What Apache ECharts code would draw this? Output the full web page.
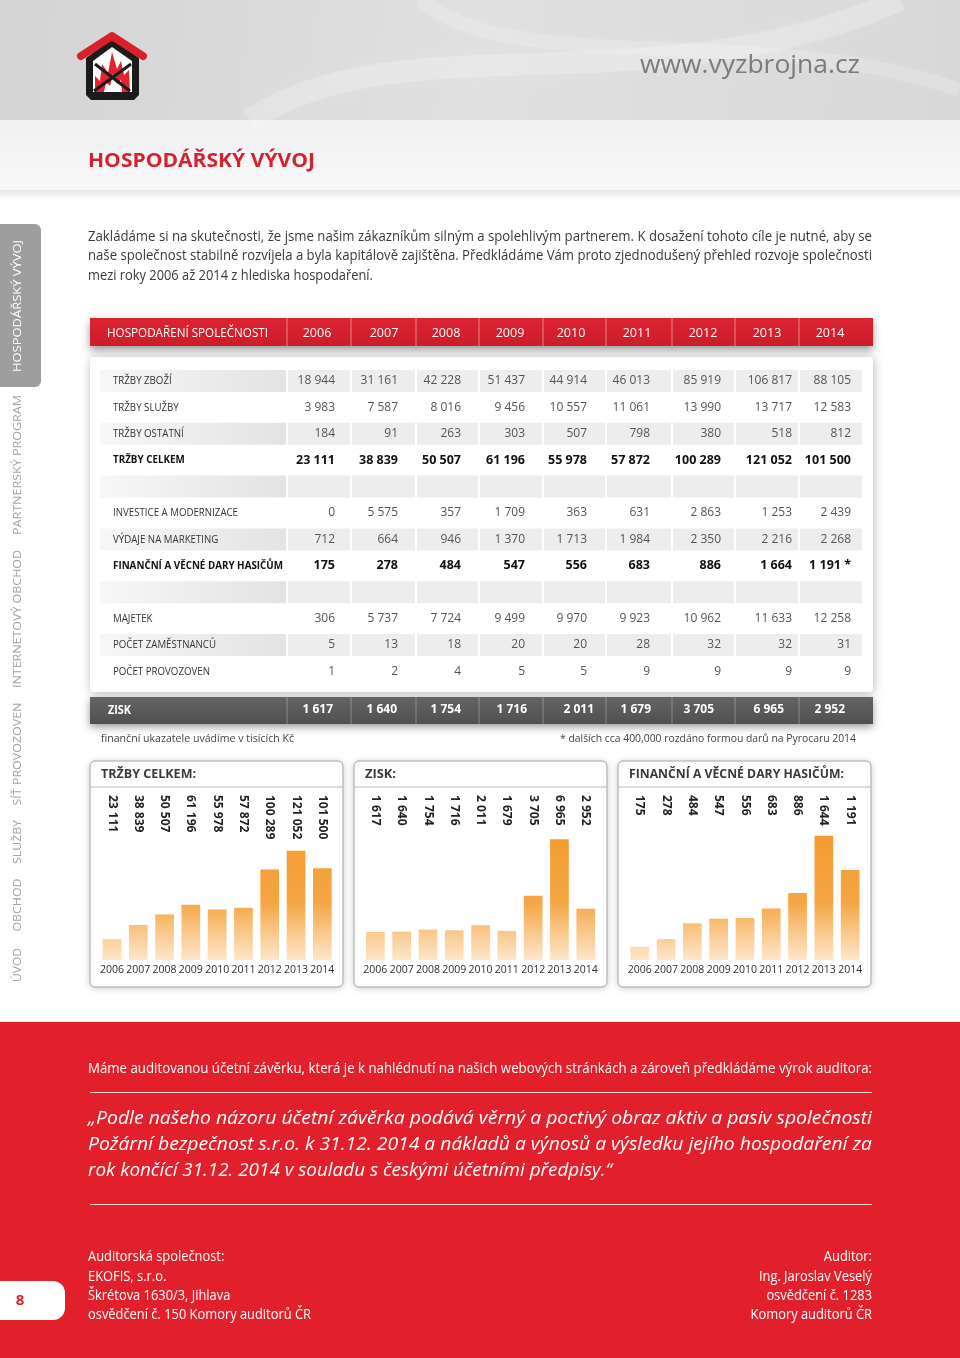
<!DOCTYPE html>
<html><head><meta charset="utf-8">
<script src="https://cdn.jsdelivr.net/npm/echarts@6/dist/echarts.min.js"></script>
<style>html,body{margin:0;padding:0;background:#fff}#c{width:960px;height:1358px}</style>
</head><body><div id="c"></div>
<script>
// ---------------- DATA ----------------
const years = ['2006','2007','2008','2009','2010','2011','2012','2013','2014'];
const rowLabels = ['TRŽBY ZBOŽÍ','TRŽBY SLUŽBY','TRŽBY OSTATNÍ','TRŽBY CELKEM','',
  'INVESTICE A MODERNIZACE','VÝDAJE NA MARKETING','FINANČNÍ A VĚCNÉ DARY HASIČŮM','',
  'MAJETEK','POČET ZAMĚSTNANCŮ','POČET PROVOZOVEN'];
const trzbyZbozi   = [18944, 31161, 42228, 51437, 44914, 46013, 85919, 106817, 88105];
const trzbySluzby  = [3983, 7587, 8016, 9456, 10557, 11061, 13990, 13717, 12583];
const trzbyOstatni = [184, 91, 263, 303, 507, 798, 380, 518, 812];
const trzbyCelkem  = [23111, 38839, 50507, 61196, 55978, 57872, 100289, 121052, 101500];
const investice    = [0, 5575, 357, 1709, 363, 631, 2863, 1253, 2439];
const marketing    = [712, 664, 946, 1370, 1713, 1984, 2350, 2216, 2268];
const daryTable    = [175, 278, 484, 547, 556, 683, 886, 1664, 1191];
const majetek      = [306, 5737, 7724, 9499, 9970, 9923, 10962, 11633, 12258];
const zamestnanci  = [5, 13, 18, 20, 20, 28, 32, 32, 31];
const provozovny   = [1, 2, 4, 5, 5, 9, 9, 9, 9];
const zisk         = [1617, 1640, 1754, 1716, 2011, 1679, 3705, 6965, 2952];
const daryChart    = [175, 278, 484, 547, 556, 683, 886, 1644, 1191];
const chartTitles  = ['TRŽBY CELKEM:', 'ZISK:', 'FINANČNÍ A VĚCNÉ DARY HASIČŮM:'];

// ---------------- LAYOUT HELPERS ----------------
const FF = '"Open Sans", "Noto Sans", sans-serif';
const mctx = document.createElement('canvas').getContext('2d');
function measure(t, size, weight, fstyle) {
  mctx.font = (fstyle || 'normal') + ' ' + (weight || 'normal') + ' ' + size + 'px ' + FF;
  return mctx.measureText(t).width;
}
function fmt(n) { return String(n).replace(/\B(?=(\d{3})+(?!\d))/g, ' '); }
function txt(t, x, y, o) {
  o = o || {};
  const size = o.size || 12, weight = o.weight || 'normal', fstyle = o.fstyle || 'normal';
  let sx = o.sx || 1;
  if (o.fit) sx = o.fit / measure(t, size, weight, fstyle);
  const al = o.align || 'left';
  return { type: 'text', x: x, y: y, scaleX: sx, scaleY: 1, rotation: o.rot || 0, z: o.z || 10, silent: true,
    style: { text: t, x: 0, y: 0, fill: o.color || '#333', fontSize: size, fontWeight: weight, fontStyle: fstyle,
      fontFamily: FF, align: al, textAlign: al, verticalAlign: 'middle', textVerticalAlign: 'middle' } };
}
function rect(x, y, w, h, fill, o) {
  o = o || {};
  const st = { fill: fill };
  if (o.stroke) { st.stroke = o.stroke; st.lineWidth = o.lw || 1; }
  if (o.shadow) { st.shadowBlur = o.shadow; st.shadowColor = o.shadowColor || 'rgba(0,0,0,0.3)'; st.shadowOffsetY = o.sy || 0; st.shadowOffsetX = o.sxo || 0; }
  return { type: 'rect', z: o.z || 0, silent: true, shape: { x: x, y: y, width: w, height: h, r: o.r || 0 }, style: st };
}
function line(x1, y1, x2, y2, color, lw, z) {
  return { type: 'line', z: z || 3, silent: true, shape: { x1: x1, y1: y1, x2: x2, y2: y2 }, style: { stroke: color, lineWidth: lw || 1 } };
}
function lin(x, y, x2, y2, stops) {
  return { type: 'linear', x: x, y: y, x2: x2, y2: y2, global: true,
    colorStops: stops.map(s => ({ offset: s[0], color: s[1] })) };
}

const G = [];
// page background
G.push(rect(0, 0, 960, 120, lin(0, 0, 960, 120, [[0, '#d4d4d4'], [0.5, '#e0e0e0'], [1, '#d8d8d8']]), { z: 0 }));
G.push(rect(0, 120, 960, 70, lin(0, 120, 0, 190, [[0, '#f1f1f1'], [1, '#f8f8f8']]), { z: 0 }));
G.push(rect(0, 190, 960, 10, lin(0, 190, 0, 200, [[0, '#e6e6e6'], [1, '#ffffff']]), { z: 0 }));
// smoke hints
G.push({ type: 'bezierCurve', z: 0, silent: true, shape: { x1: 250, y1: 120, x2: 900, y2: 0, cpx1: 400, cpy1: 20, cpx2: 650, cpy2: 110 }, style: { stroke: 'rgba(255,255,255,0.22)', lineWidth: 22, fill: null, shadowBlur: 25, shadowColor: 'rgba(255,255,255,0.6)' } });
G.push({ type: 'bezierCurve', z: 0, silent: true, shape: { x1: 420, y1: 0, x2: 960, y2: 90, cpx1: 520, cpy1: 80, cpx2: 760, cpy2: 20 }, style: { stroke: 'rgba(255,255,255,0.18)', lineWidth: 14, fill: null, shadowBlur: 20, shadowColor: 'rgba(255,255,255,0.5)' } });

// logo
G.push({ type: 'polygon', z: 2, silent: true, shape: { points: [[86, 58], [112, 39], [139, 58], [139, 95], [134, 100], [91, 100], [86, 95]] }, style: { fill: '#1b1b1b' } });
G.push({ type: 'polygon', z: 3, silent: true, shape: { points: [[93, 61], [112, 47], [132, 61], [132, 92], [93, 92]] }, style: { fill: '#ffffff' } });
G.push({ type: 'polygon', z: 4, silent: true, shape: { points: [[95, 92], [95, 76], [100, 81], [102, 64], [108, 73], [112, 52], [117, 69], [121, 61], [124, 75], [129, 70], [130, 92]] }, style: { fill: '#e2242e' } });
G.push({ type: 'polygon', z: 5, silent: true, shape: { points: [[104, 92], [106, 82], [110, 86], [113, 74], [117, 84], [121, 80], [122, 92]] }, style: { fill: '#ffffff' } });
G.push(line(95, 64, 130, 91, '#1b1b1b', 3, 6));
G.push(line(131, 64, 94, 91, '#1b1b1b', 3, 6));
G.push({ type: 'polyline', z: 7, silent: true, shape: { points: [[81, 56], [112, 36], [143, 56]] }, style: { stroke: '#d8212d', lineWidth: 8, lineCap: 'round', lineJoin: 'round', fill: null } });

G.push(txt('www.vyzbrojna.cz', 640, 66, { size: 26, color: '#7b7b7b', fit: 220 }));
G.push(txt('HOSPODÁŘSKÝ VÝVOJ', 88, 161, { size: 20, weight: 'bold', color: '#d32330', fit: 227 }));

// sidebar
G.push(rect(-8, 224, 49, 163, '#9e9e9e', { r: 6, z: 1 }));
const side = [['HOSPODÁŘSKÝ VÝVOJ', 306, 132, '#ffffff'], ['PARTNERSKÝ PROGRAM', 465, 140, '#a3a3a3'], ['INTERNETOVÝ OBCHOD', 619, 138, '#a3a3a3'],
  ['SÍŤ PROVOZOVEN', 754, 103, '#a3a3a3'], ['SLUŽBY', 842, 44, '#a3a3a3'], ['OBCHOD', 905, 53, '#a3a3a3'], ['ÚVOD', 965, 34, '#a3a3a3']];
side.forEach(s => G.push(txt(s[0], 18, s[1], { size: 11, color: s[3], fit: s[2], align: 'center', rot: Math.PI / 2 })));

// intro paragraph
const intro = [['Zakládáme si na skutečnosti, že jsme našim zákazníkům silným a spolehlivým partnerem. K dosažení tohoto cíle je nutné, aby se', 237, 784],
  ['naše společnost stabilně rozvíjela a byla kapitálově zajištěna. Předkládáme Vám proto zjednodušený přehled rozvoje společnosti', 256, 784],
  ['mezi roky 2006 až 2014 z hlediska hospodaření.', 276, 285]];
intro.forEach(l => G.push(txt(l[0], 88, l[1], { size: 14, color: '#3a3a3a', fit: l[2] })));

// ---------------- TABLE ----------------
const rowData = [trzbyZbozi, trzbySluzby, trzbyOstatni, trzbyCelkem, null, investice, marketing, daryTable, null, majetek, zamestnanci, provozovny];
const boldRows = [3, 7];
const grayRows = [0, 2, 4, 6, 8, 10];
const colCells = [[288, 350], [352, 415], [417, 478], [480, 542], [544, 605], [607, 671], [673, 734], [736, 798], [800, 862]];
const valRight = [335, 398, 461, 525, 587, 650, 721, 792, 851];
const yearCenter = [317, 384, 446, 510, 571, 637, 703, 767, 830];
const ziskRight = [333, 397, 461, 527, 594, 651, 714, 784, 845];
const seps = [287, 351, 416, 479, 543, 606, 672, 735, 799];

// header bar
G.push(rect(90, 318, 783, 28, lin(0, 318, 0, 346, [[0, '#dc2331'], [1, '#cc1d2a']]), { z: 2, shadow: 8, sy: 4, shadowColor: 'rgba(0,0,0,0.4)' }));
seps.forEach(x => G.push(line(x, 318, x, 346, 'rgba(255,255,255,0.45)', 1, 3)));
G.push(txt('HOSPODAŘENÍ SPOLEČNOSTI', 107, 333, { size: 13, color: '#ffffff', fit: 161 }));
years.forEach((y, i) => G.push(txt(y, yearCenter[i], 333, { size: 12.5, color: '#ffffff', align: 'center' })));

// body card
G.push(rect(90, 357, 783, 335, '#ffffff', { z: 1, r: 4, shadow: 10, shadowColor: 'rgba(0,0,0,0.28)', sy: 1, sxo: 1 }));
const sxLab = 125 / measure('INVESTICE A MODERNIZACE', 11, 'normal');
const sxLabB = 170 / measure('FINANČNÍ A VĚCNÉ DARY HASIČŮM', 11, 'bold');
rowLabels.forEach((lab, r) => {
  const top = 370 + 26.4 * r, cy = top + 11;
  const bold = boldRows.indexOf(r) >= 0;
  if (grayRows.indexOf(r) >= 0) {
    G.push(rect(100, top, 186, 22, lin(100, 0, 286, 0, [[0, '#f7f7f7'], [1, '#e3e3e3']]), { z: 2 }));
    colCells.forEach(c => G.push(rect(c[0], top, c[1] - c[0], 22, '#ededed', { z: 2 })));
  }
  if (lab) G.push(txt(lab, 113, cy, { size: 11, weight: bold ? 'bold' : 'normal', color: bold ? '#111' : '#333', sx: bold ? sxLabB : sxLab }));
  const d = rowData[r];
  if (d) d.forEach((v, i) => {
    let s = fmt(v);
    if (r === 7 && i === 8) s += ' *';
    G.push(txt(s, valRight[i], cy, { size: bold ? 12.5 : 12, weight: bold ? 'bold' : 'normal', color: bold ? '#111' : '#555', align: 'right' }));
  });
});

// ZISK bar
G.push(rect(90, 697, 783, 27, lin(0, 697, 0, 724, [[0, '#646464'], [1, '#505050']]), { z: 2, shadow: 8, sy: 3, shadowColor: 'rgba(0,0,0,0.4)' }));
seps.forEach(x => G.push(line(x, 697, x, 724, 'rgba(255,255,255,0.3)', 1, 3)));
G.push(txt('ZISK', 108, 710, { size: 13, weight: 'bold', color: '#ffffff', fit: 23 }));
zisk.forEach((v, i) => G.push(txt(fmt(v), ziskRight[i], 710, { size: 12, weight: 'bold', color: '#ffffff', align: 'right' })));

G.push(txt('finanční ukazatele uvádíme v tisících Kč', 101, 739, { size: 11, color: '#444', fit: 193 }));
G.push(txt('* dalších cca 400,000 rozdáno formou darů na Pyrocaru 2014', 856, 739, { size: 11, color: '#444', fit: 296, align: 'right' }));

// chart boxes
const boxX = [90, 354, 618];
const titleW = [95, 31, 215];
boxX.forEach((bx, i) => {
  G.push(rect(bx, 761, 253, 226, '#ffffff', { z: 1, r: 5, stroke: '#a9a9a9', shadow: 6, shadowColor: 'rgba(0,0,0,0.18)', sy: 1 }));
  G.push(line(bx, 787, bx + 253, 787, '#bdbdbd', 1, 2));
  G.push(txt(chartTitles[i], bx + 11, 774, { size: 13, weight: 'bold', color: '#3a3a3a', fit: titleW[i] }));
});

// footer
G.push(rect(0, 1022, 960, 336, '#e2202b', { z: 0 }));
G.push(line(0, 1021.5, 960, 1021.5, '#f4f4f4', 1, 1));
G.push(txt('Máme auditovanou účetní závěrku, která je k nahlédnutí na našich webových stránkách a zároveň předkládáme výrok auditora:', 88, 1069, { size: 14, color: '#ffffff', fit: 784 }));
G.push(line(90, 1092.5, 872, 1092.5, 'rgba(255,255,255,0.85)', 1, 3));
const quote = [['„Podle našeho názoru účetní závěrka podává věrný a poctivý obraz aktiv a pasiv společnosti', 1119, 784],
  ['Požární bezpečnost s.r.o. k 31.12. 2014 a nákladů a výnosů a výsledku jejího hospodaření za', 1145, 784],
  ['rok končící 31.12. 2014 v souladu s českými účetními předpisy.“', 1171, 524]];
quote.forEach(q => G.push(txt(q[0], 88, q[1], { size: 19, fstyle: 'italic', color: '#ffffff', fit: q[2] })));
G.push(line(90, 1204.5, 872, 1204.5, 'rgba(255,255,255,0.85)', 1, 3));
const sxF = 223 / measure('osvědčení č. 150 Komory auditorů ČR', 14, 'normal');
const leftBlock = ['Auditorská společnost:', 'EKOFIS, s.r.o.', 'Škrétova 1630/3, Jihlava', 'osvědčení č. 150 Komory auditorů ČR'];
const rightBlock = ['Auditor:', 'Ing. Jaroslav Veselý', 'osvědčení č. 1283', 'Komory auditorů ČR'];
const blockY = [1257, 1277, 1296, 1315];
leftBlock.forEach((t, i) => G.push(txt(t, 88, blockY[i], { size: 14, color: '#ffffff', sx: sxF })));
rightBlock.forEach((t, i) => G.push(txt(t, 872, blockY[i], { size: 14, color: '#ffffff', sx: sxF, align: 'right' })));
G.push(rect(-12, 1281, 77, 39, '#ffffff', { z: 2, r: 12 }));
G.push(txt('8', 20, 1301, { size: 15, weight: 'bold', color: '#d8202c', align: 'center' }));

// ---------------- CHARTS ----------------
const chartData = [trzbyCelkem, zisk, daryChart];
const chartMax = [144000, 7500, 1720];
const gridLeft = [98.8, 362.2, 626.6];
const barGrad = lin(0, 830, 0, 960, [[0, '#f39b2f'], [0.55, '#f5a543'], [1, '#fde7cb']]);
const grids = [], xAxes = [], yAxes = [], series = [];
chartData.forEach((d, i) => {
  grids.push({ left: gridLeft[i], top: 830, width: 236.7, height: 130 });
  xAxes.push({ type: 'category', gridIndex: i, data: years, position: 'bottom', z: 5,
    axisLine: { show: false }, axisTick: { show: false }, splitLine: { show: false },
    axisLabel: { interval: 0, margin: 5, fontSize: 10.5, color: '#2e2e2e', fontFamily: FF } });
  // value labels: top axis moved up to y=795, labels drawn inside (downwards), rotated
  xAxes.push({ type: 'category', gridIndex: i, data: years, position: 'top', offset: 35, z: 5,
    axisLine: { show: false }, axisTick: { show: false }, splitLine: { show: false },
    axisLabel: { interval: 0, rotate: 90, inside: true, margin: 0, fontSize: 12, fontWeight: 'bold', color: '#222', fontFamily: FF,
      formatter: (v, idx) => fmt(d[idx]) } });
  yAxes.push({ type: 'value', gridIndex: i, min: 0, max: chartMax[i], show: false, splitLine: { show: false } });
  series.push({ type: 'bar', xAxisIndex: 2 * i, yAxisIndex: i, data: d, barWidth: 18.7, z: 4,
    itemStyle: { color: barGrad }, silent: true, animation: false });
});

const chart = echarts.init(document.getElementById('c'), null, { renderer: 'canvas' });
chart.setOption({
  animation: false,
  backgroundColor: '#ffffff',
  grid: grids, xAxis: xAxes, yAxis: yAxes, series: series,
  graphic: { elements: G }
});
</script>
</body></html>
